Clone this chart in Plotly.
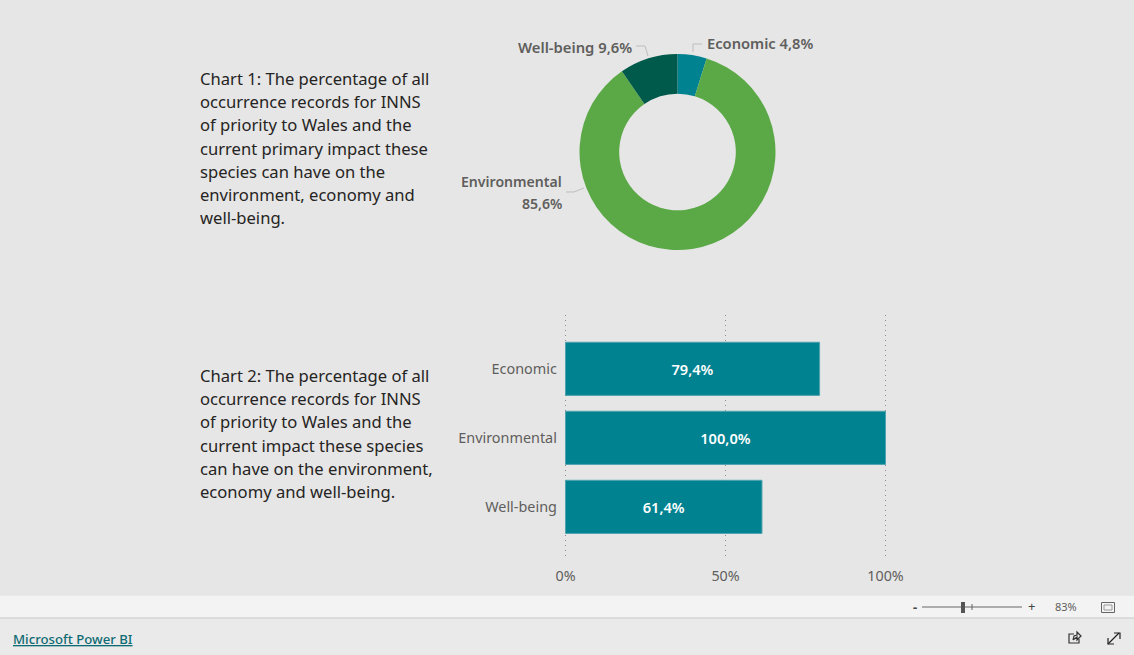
import plotly.graph_objects as go

categories = ["Economic", "Environmental", "Well-being"]
primary_impact = [4.8, 85.6, 9.6]
any_impact = [79.4, 100.0, 61.4]
pct_ticks = [0, 50, 100]
chart1_text = ["Chart 1: The percentage of all", "occurrence records for INNS", "of priority to Wales and the",
               "current primary impact these", "species can have on the", "environment, economy and", "well-being."]
chart2_text = ["Chart 2: The percentage of all", "occurrence records for INNS", "of priority to Wales and the",
               "current impact these species", "can have on the environment,", "economy and well-being."]

W, H = 1134, 655
FONT = "Noto Sans"
GREY = "#605E5C"
def fx(p): return p / W
def fy(p): return 1 - p / H
def lab(i): return f"{primary_impact[i]:.1f}".replace(".", ",") + "%"

fig = go.Figure()
fig.add_trace(go.Pie(labels=categories, values=primary_impact, hole=0.595, sort=False, direction="clockwise",
                     rotation=0, textinfo="none", showlegend=False,
                     marker=dict(colors=["#008291", "#5BA946", "#005A4B"], line=dict(width=0)),
                     domain=dict(x=[fx(579.5), fx(775.5)], y=[fy(250), fy(54)])))
fig.add_trace(go.Bar(y=categories, x=any_impact, orientation="h", width=0.77, showlegend=False,
                     marker=dict(color="#008291", line=dict(color="#4FA3AE", width=1)),
                     texttemplate="%{x:.1f}%", textposition="inside", insidetextanchor="middle", textangle=0,
                     textfont=dict(color="white", size=14.6, family=FONT, weight=600), cliponaxis=False))

ann = []
def text(x, y, t, size, color, anchor="left", weight=400, family=FONT):
    ann.append(dict(xref="paper", yref="paper", x=fx(x), y=fy(y), text=t, showarrow=False, xanchor=anchor,
                    yanchor="middle", font=dict(size=size, color=color, family=family, weight=weight),
                    align=anchor, borderpad=0, borderwidth=0))

for i, t in enumerate(chart1_text):
    text(200, 78.5 + i * 23.2, t, 16.6, "#252423")
for i, t in enumerate(chart2_text):
    text(200, 375.5 + i * 23.2, t, 16.6, "#252423")

text(707, 43, f"{categories[0]} {lab(0)}", 14.7, GREY, weight=600)
text(632, 47, f"{categories[2]} {lab(2)}", 14.8, GREY, "right", weight=600)
text(562, 182, categories[1], 14.1, GREY, "right", weight=600)
text(562, 203, lab(1), 14.1, GREY, "right", weight=600)

text(913, 606.5, "-", 13, "#444444", "left", 700)
text(1028, 606, "+", 13, "#444444", "left")
text(1055, 606.5, "83%", 11, GREY)
text(13, 639, "<a href='#' style='color:#0E6A72'><u>Microsoft Power BI</u></a>", 13.2, "#0E6A72", weight=500)

def rect(x0, y0, x1, y1, fill, line=None, layer="below"):
    return dict(type="rect", xref="paper", yref="paper", x0=fx(x0), x1=fx(x1), y0=fy(y0), y1=fy(y1),
                fillcolor=fill, line=dict(color=line or fill, width=1 if line else 0), layer=layer)
def pl(points, color, width=1):
    d = "M " + " L ".join(f"{fx(a):.5f},{fy(b):.5f}" for a, b in points)
    return dict(type="path", xref="paper", yref="paper", path=d, line=dict(color=color, width=width), layer="above")

shapes = [
    rect(0, 596, W, 618, "#F3F3F3"),
    rect(0, 618, W, H, "#EAEAEA"),
    pl([(0, 595.5), (W, 595.5)], "#E9E9E9"),
    pl([(0, 618), (W, 618)], "#C8C8C8"),
    pl([(922, 607), (1022, 607)], "#666666"),
    pl([(972, 604), (972, 610)], "#666666"),
    rect(961, 602, 965, 613, "#555555", layer="above"),
    rect(1101.5, 602.5, 1114.5, 612.5, "#F3F3F3", "#666666", layer="above"),
    rect(1104, 605, 1112, 610, "#F3F3F3", "#999999", layer="above"),
    # leader lines
    pl([(693, 52), (693, 44), (702, 44)], "#BDBDBD"),
    pl([(648, 56), (645, 46), (636, 46)], "#BDBDBD"),
    pl([(584, 188), (574, 192), (566, 192)], "#BDBDBD"),
    # share icon
    pl([(1074, 634), (1069, 634), (1069, 643), (1079, 643), (1079, 639)], "#333333", 1.2),
    pl([(1073, 640), (1074, 636), (1077, 635), (1077, 632), (1081, 636), (1077, 640), (1077, 637), (1073, 640)], "#333333", 1.2),
    # expand icon
    pl([(1108, 644), (1119, 633)], "#222222", 1.2),
    pl([(1114, 633), (1120, 633), (1120, 639)], "#222222", 1.2),
    pl([(1108, 638), (1108, 644), (1114, 644)], "#222222", 1.2),
]

# x scale: 0 at 565.5 px, 100 at 885.5 px; the range is padded so the end gridlines are kept
fig.update_layout(
    width=W, height=H, autosize=False, margin=dict(l=0, r=0, t=0, b=0),
    paper_bgcolor="#E6E6E6", plot_bgcolor="rgba(0,0,0,0)", separators=",.",
    font=dict(family=FONT, color=GREY), annotations=ann, shapes=shapes,
    xaxis=dict(domain=[fx(563.9), fx(887.1)], range=[-0.5, 100.5], tickvals=pct_ticks,
               ticktext=[f"{v}%" for v in pct_ticks], automargin=False,
               showgrid=True, gridcolor="#8C8C8C", griddash="1px,4px", gridwidth=1, zeroline=False, showline=False,
               ticks="", ticklabelstandoff=6, tickfont=dict(size=14.3, color=GREY, family=FONT), anchor="y",
               layer="below traces"),
    yaxis=dict(domain=[fy(560), fy(315)], range=[2.77, -0.78], type="category", categoryorder="array",
               categoryarray=categories, showgrid=False, zeroline=False, showline=False, ticks="", automargin=False,
               ticklabelstandoff=6, tickfont=dict(size=14.4, color=GREY, family=FONT)),
)
fig.write_html("out.html", config=dict(displayModeBar=False),
               post_script="document.body.style.margin='0';document.documentElement.style.overflow='hidden';")
